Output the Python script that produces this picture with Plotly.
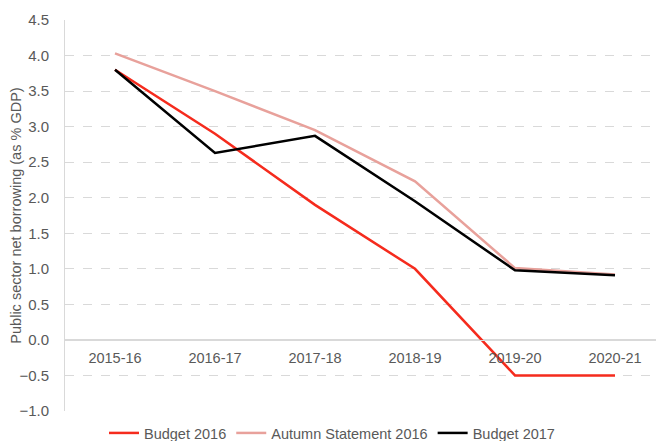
import plotly.graph_objects as go

categories = ["2015-16", "2016-17", "2017-18", "2018-19", "2019-20", "2020-21"]
budget_2016 = [3.8, 2.9, 1.9, 1.0, -0.5, -0.5]
autumn_2016 = [4.03, 3.5, 2.95, 2.23, 1.01, 0.92]
budget_2017 = [3.8, 2.63, 2.87, 1.95, 0.98, 0.91]
y_ticks = [-1.0, -0.5, 0.0, 0.5, 1.0, 1.5, 2.0, 2.5, 3.0, 3.5, 4.0, 4.5]

FONT = "Liberation Sans, Arial, sans-serif"
GRAY = "#595959"
GRID = "#d9d9d9"

W, H = 664, 441
OFF = 8  # page body margin offset
PLOT_TOP, PLOT_BOTTOM = 20 - OFF, 411 - OFF
PLOT_LEFT, PLOT_RIGHT = 65 - OFF, 665 - OFF
ymin, ymax = -1.0, 4.5

fig = go.Figure()
for name, vals, col in [
    ("Budget 2016", budget_2016, "#f52b1d"),
    ("Autumn Statement 2016", autumn_2016, "#e8a19b"),
    ("Budget 2017", budget_2017, "#000000"),
]:
    fig.add_trace(go.Scatter(x=categories, y=vals, mode="lines", name=name,
                             line=dict(color=col, width=2.5)))

zero_pos = (0 - ymin) / (ymax - ymin)

fig.update_layout(
    width=W, height=H,
    margin=dict(l=PLOT_LEFT, r=W - PLOT_RIGHT, t=PLOT_TOP, b=H - PLOT_BOTTOM,
                autoexpand=False),
    paper_bgcolor="white", plot_bgcolor="white",
    font=dict(family=FONT, color=GRAY, size=14),
    showlegend=True,
    legend=dict(orientation="h", xref="container", yref="container",
                x=(332 - OFF) / W, xanchor="center",
                y=(H - (433 - OFF)) / H, yanchor="middle",
                font=dict(size=14.5, color=GRAY), itemwidth=30,
                tracegroupgap=0, bgcolor="rgba(0,0,0,0)"),
    xaxis=dict(
        type="category", range=[-0.5, 5.5],
        anchor="free", position=zero_pos,
        showline=True, linecolor=GRID, linewidth=1,
        showgrid=False, ticks="outside", ticklen=5, tickcolor="rgba(0,0,0,0)",
        tickfont=dict(size=14.5, color=GRAY),
    ),
    yaxis=dict(
        range=[ymin, ymax], tickvals=y_ticks, tickformat=".1f",
        showgrid=True, gridcolor=GRID, griddash="dash", gridwidth=1,
        zeroline=True, zerolinecolor=GRID, zerolinewidth=1,
        showline=True, linecolor=GRID, linewidth=1,
        ticks="outside", ticklen=12, tickcolor="rgba(0,0,0,0)",
        tickfont=dict(size=15, color=GRAY),
        title=dict(text="Public sector net borrowing (as % GDP)",
                   font=dict(size=14.5, color=GRAY), standoff=2),
    ),
)

fig.write_html("out.html")
